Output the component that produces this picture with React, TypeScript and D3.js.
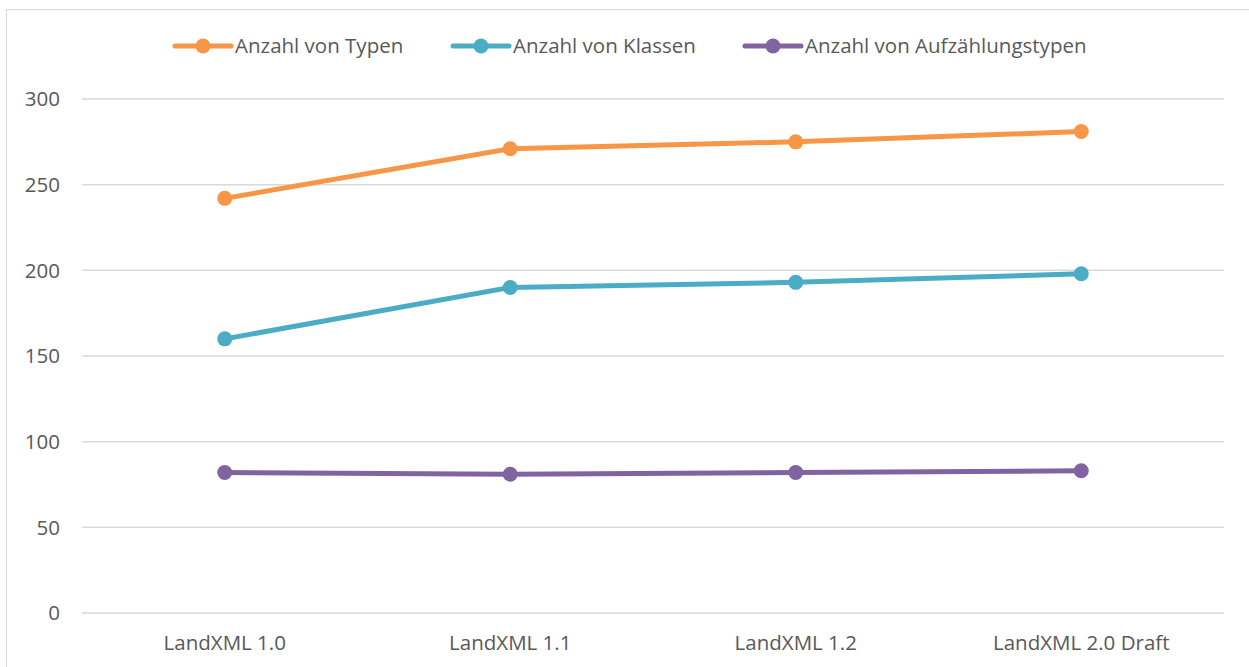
import React from 'react';
import * as d3 from 'd3';

const categories = ['LandXML 1.0', 'LandXML 1.1', 'LandXML 1.2', 'LandXML 2.0 Draft'];
const typen = [242, 271, 275, 281];
const klassen = [160, 190, 193, 198];
const aufzaehlung = [82, 81, 82, 83];
const yTicks = [0, 50, 100, 150, 200, 250, 300];

const series = [
  { name: 'Anzahl von Typen', values: typen, color: '#F79646' },
  { name: 'Anzahl von Klassen', values: klassen, color: '#4BACC6' },
  { name: 'Anzahl von Aufzählungstypen', values: aufzaehlung, color: '#8064A2' },
];

const width = 1249;
const height = 667;
const font = "'Open Sans', 'Liberation Sans', sans-serif";
const fs = 20.5;

export default function App() {
  const x = d3.scaleBand().domain(categories).range([82, 1224]);
  const y = d3.scaleLinear().domain([0, 300]).range([613, 99]);
  const line = d3
    .line<number>()
    .x((_, i) => x(categories[i])! + x.bandwidth() / 2)
    .y((d) => y(d));

  const legendX = [175, 453, 745];

  return (
    <svg
      width={width}
      height={height}
      style={{ position: 'absolute', left: 0, top: 0, background: '#fff' }}
    >
      <rect x={6.5} y={9.5} width={1260} height={700} fill="#fff" stroke="#d9d9d9" />

      {/* gridlines + y labels */}
      {yTicks.map((t) => (
        <g key={t}>
          <line x1={82} x2={1224} y1={y(t)} y2={y(t)} stroke="#d9d9d9" strokeWidth={1.5} />
          <text
            x={60}
            y={y(t)}
            dy="0.35em"
            textAnchor="end"
            fontFamily={font}
            fontSize={fs}
            fill="#595959"
          >
            {t}
          </text>
        </g>
      ))}

      {/* x labels */}
      {categories.map((c) => (
        <text
          key={c}
          x={x(c)! + x.bandwidth() / 2}
          y={643}
          dy="0.35em"
          textAnchor="middle"
          fontFamily={font}
          fontSize={fs}
          fill="#595959"
        >
          {c}
        </text>
      ))}

      {/* series */}
      {series.map((s) => (
        <g key={s.name}>
          <path d={line(s.values)!} fill="none" stroke={s.color} strokeWidth={5} strokeLinejoin="round" />
          {s.values.map((v, i) => (
            <circle
              key={i}
              cx={x(categories[i])! + x.bandwidth() / 2}
              cy={y(v)}
              r={7.5}
              fill={s.color}
            />
          ))}
        </g>
      ))}

      {/* legend */}
      {series.map((s, i) => (
        <g key={s.name} transform={`translate(${legendX[i]},46)`}>
          <line x1={0} x2={56} y1={0} y2={0} stroke={s.color} strokeWidth={5} strokeLinecap="round" />
          <circle cx={28} cy={0} r={7.5} fill={s.color} />
          <text x={60} y={0} dy="0.35em" fontFamily={font} fontSize={fs} fill="#595959">
            {s.name}
          </text>
        </g>
      ))}
    </svg>
  );
}
